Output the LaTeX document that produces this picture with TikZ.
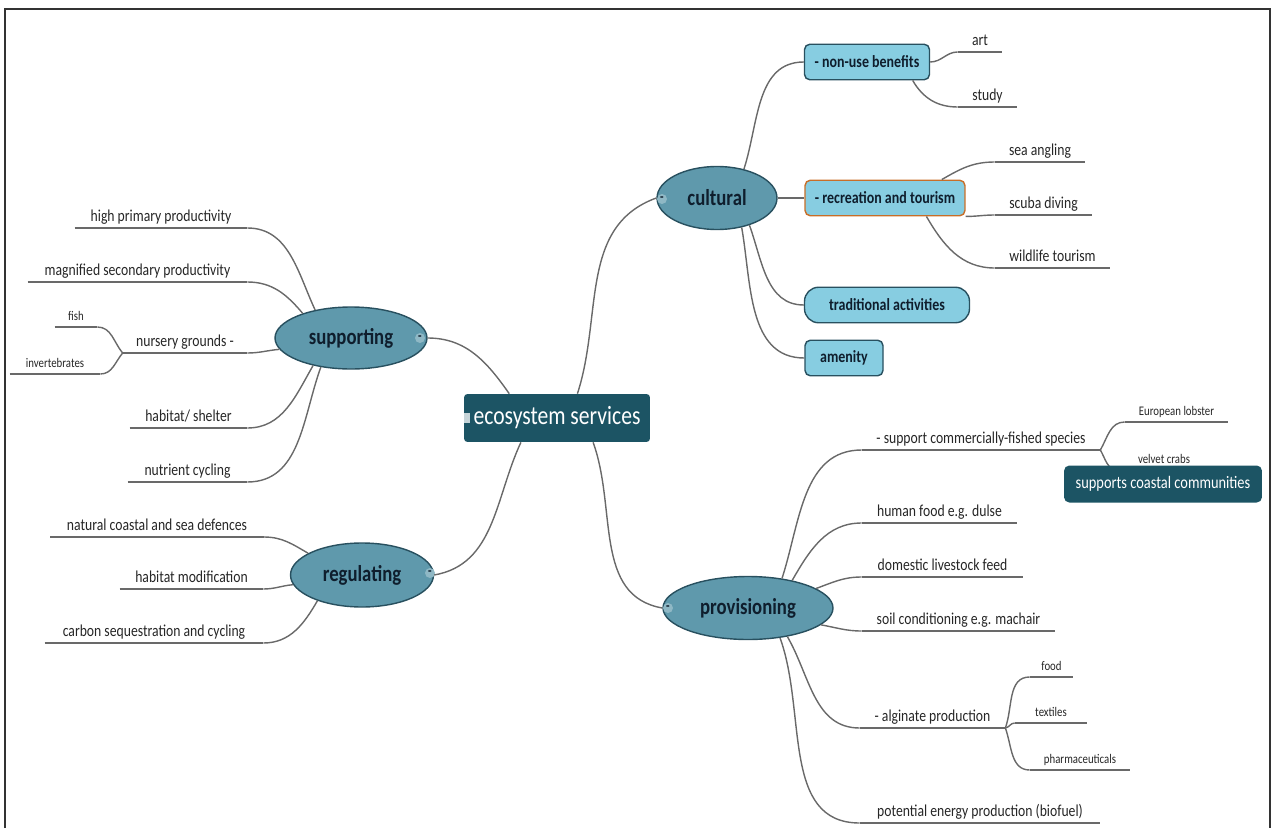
\documentclass[tikz,border=0pt]{standalone}
\usepackage{fontspec}
\setmainfont{Carlito}[FakeStretch=0.82]
\usetikzlibrary{shapes.geometric}
\definecolor{esdark}{RGB}{28,84,100}
\definecolor{esellipse}{RGB}{95,153,172}
\definecolor{esborder}{RGB}{40,80,95}
\definecolor{esbox}{RGB}{135,205,225}
\definecolor{esorange}{RGB}{200,110,40}
\definecolor{esline}{RGB}{105,105,105}
\definecolor{esnavy}{RGB}{15,30,45}

\begin{document}
\begin{tikzpicture}[x=0.02cm, y=-0.02cm,
  link/.style={draw=esline, line width=0.8pt},
  leaf/.style={anchor=south, inner xsep=0pt, inner ysep=1.5pt, text depth=0.22em,
    minimum width=#1*0.02cm, font=\fontsize{9.5}{11}\selectfont, text=black!85},
  twig/.style={leaf=#1, font=\fontsize{7.5}{9}\selectfont},
  branch/.style={ellipse, draw=esborder, line width=0.8pt, fill=esellipse, inner sep=0pt,
    font=\fontsize{13}{15}\selectfont\bfseries, text=esnavy},
  topic/.style={rectangle, rounded corners=3pt, draw=esborder, line width=0.8pt, fill=esbox,
    inner sep=0pt, minimum height=0.71cm, font=\fontsize{9.7}{11}\selectfont\bfseries, text=esnavy},
  fold/.style={circle, fill=esellipse!70!white, inner sep=0pt, minimum size=0.2cm,
    font=\fontsize{8}{8}\selectfont\bfseries, text=esnavy}
]
\useasboundingbox (0,0) rectangle (1274,828);

% centre
\node[fill=esdark, rounded corners=2pt, minimum width=3.72cm, minimum height=0.96cm,
  text=white, font=\fontsize{15}{17}\selectfont] (eco) at (557,418) {ecosystem services};
\node[fill=white!75!esdark, minimum width=0.12cm, minimum height=0.2cm, inner sep=0pt] (ecofold) at (467,418) {};

% main branches
\node[branch, minimum width=3.04cm, minimum height=1.24cm] (sup) at (351,338) {supporting};
\node[branch, minimum width=2.86cm, minimum height=1.28cm] (reg) at (362,575) {regulating};
\node[branch, minimum width=2.4cm, minimum height=1.26cm] (cul) at (717,198) {cultural};
\node[branch, minimum width=3.4cm, minimum height=1.26cm] (prov) at (748,608) {provisioning};
\node[fold] (supfold) at (420,338) {-};
\node[fold] (regfold) at (430,573) {-};
\node[fold] (culfold) at (662,199) {-};
\node[fold] (provfold) at (668,608) {-};

% cultural topics
\node[topic, minimum width=2.5cm] (nonuse) at (867,62) {- non-use benefits};
\node[topic, minimum width=3.2cm, draw=esorange] (rec) at (885,198) {- recreation and tourism};
\node[topic, minimum width=3.3cm, rounded corners=8pt] (trad) at (887,305) {traditional activities};
\node[topic, minimum width=1.56cm] (amen) at (844,358) {amenity};

% supporting leaves
\node[leaf=172] (hpp) at (161,228) {high primary productivity};
\node[leaf=219] (msp) at (137.5,282) {magnified secondary productivity};
\node[leaf=124] (nur) at (185,353) {nursery grounds -};
\node[twig=42] (fish) at (76,327) {fish};
\node[twig=90] (inv) at (55,374) {invertebrates};
\node[leaf=117] (hab) at (188.5,428) {habitat/ shelter};
\node[leaf=119] (nut) at (187.5,482) {nutrient cycling};

% regulating leaves
\node[leaf=213] (nat) at (157,537) {natural coastal and sea defences};
\node[leaf=143] (hmod) at (191.5,589) {habitat modification};
\node[leaf=218] (carb) at (154,643) {carbon sequestration and cycling};

% cultural leaves
\node[leaf=44] (art) at (980,52) {art};
\node[leaf=59] (study) at (987.5,107) {study};
\node[leaf=90] (sea) at (1040,162) {sea angling};
\node[leaf=97] (scuba) at (1043.5,215) {scuba diving};
\node[leaf=115] (wild) at (1052.5,268) {wildlife tourism};

% provisioning leaves
\node[leaf=238] (scf) at (981,450) {- support commercially-fished species};
\node[twig=103] (lob) at (1176.5,422) {European lobster};
\node[twig=92] (crab) at (1164,470) {velvet crabs};
\node[leaf=155] (food) at (939.5,523) {human food e.g. dulse};
\node[leaf=161] (feed) at (942.5,577) {domestic livestock feed};
\node[leaf=193] (soil) at (958.5,631) {soil conditioning e.g. machair};
\node[leaf=145] (alg) at (932.5,728) {- alginate production};
\node[twig=43] (afood) at (1051.5,677) {food};
\node[twig=72] (tex) at (1051,723) {textiles};
\node[twig=100] (pharm) at (1080,770) {pharmaceuticals};
\node[leaf=240] (bio) at (980,823) {potential energy production (biofuel)};

% underlines
\foreach \n in {hpp,msp,nur,fish,inv,hab,nut,nat,hmod,carb,art,study,sea,scuba,wild,
                scf,lob,crab,food,feed,soil,alg,afood,tex,pharm,bio}
  \draw[link] (\n.south west) -- (\n.south east);

% centre to branches
\draw[link] (eco.153) to[out=125,in=0] (sup.east);
\draw[link] (eco.214) to[out=245,in=10] (reg.east);
\draw[link] (eco.50) to[out=72,in=200] (cul.west);
\draw[link] (eco.326) to[out=290,in=170] (prov.west);

% supporting
\draw[link] (sup.142) to[out=115,in=0] (hpp.south east);
\draw[link] (sup.153) to[out=130,in=0] (msp.south east);
\draw[link] (sup.189) to[out=185,in=0] (nur.south east);
\draw[link] (sup.216) to[out=240,in=0] (hab.south east);
\draw[link] (sup.224) to[out=250,in=0] (nut.south east);
\draw[link] (nur.south west) to[out=130,in=0] (fish.south east);
\draw[link] (nur.south west) to[out=230,in=0] (inv.south east);

% regulating
\draw[link] (reg.158) to[out=150,in=0] (nat.south east);
\draw[link] (reg.188) to[out=185,in=0] (hmod.south east);
\draw[link] (reg.210) to[out=240,in=0] (carb.south east);

% cultural
\draw[link] (cul.47) to[out=72,in=180] (nonuse.west);
\draw[link] (cul.east) -- (rec.west);
\draw[link] (cul.320) to[out=290,in=180] (trad.west);
\draw[link] (cul.310) to[out=280,in=180] (amen.west);
\draw[link] (nonuse.east) to[out=0,in=180] (art.south west);
\draw[link] (nonuse.338) to[out=300,in=180] (study.south west);
\draw[link] (rec.18) to[out=30,in=180] (sea.south west);
\draw[link] (rec.south east) to[out=0,in=180] (scuba.south west);
\draw[link] (rec.336) to[out=300,in=180] (wild.south west);

% provisioning
\draw[link] (prov.41) to[out=72,in=180] (scf.south west);
\draw[link] (prov.32) to[out=60,in=180] (food.south west);
\draw[link] (prov.16) to[out=20,in=180] (feed.south west);
\draw[link] (prov.347) to[out=350,in=180] (soil.south west);
\draw[link] (prov.324) to[out=300,in=180] (alg.south west);
\draw[link] (prov.317) to[out=290,in=180] (bio.south west);
\draw[link] (scf.south east) to[out=60,in=180] (lob.south west);
\draw[link] (scf.south east) to[out=300,in=180] (crab.south west);
\draw[link] (alg.south east) to[out=70,in=180] (afood.south west);
\draw[link] (alg.south east) to[out=10,in=180] (tex.south west);
\draw[link] (alg.south east) to[out=290,in=180] (pharm.south west);

% floating box over the crabs line
\node[fill=esdark, rounded corners=3pt, minimum width=3.96cm, minimum height=0.74cm,
  text=white, font=\fontsize{10}{12}\selectfont] (coast) at (1163,484) {supports coastal communities};

% frame
\draw[line width=1pt, black!80] (5,828) -- (5,9) -- (1270,9) -- (1270,828);
\end{tikzpicture}
\end{document}
